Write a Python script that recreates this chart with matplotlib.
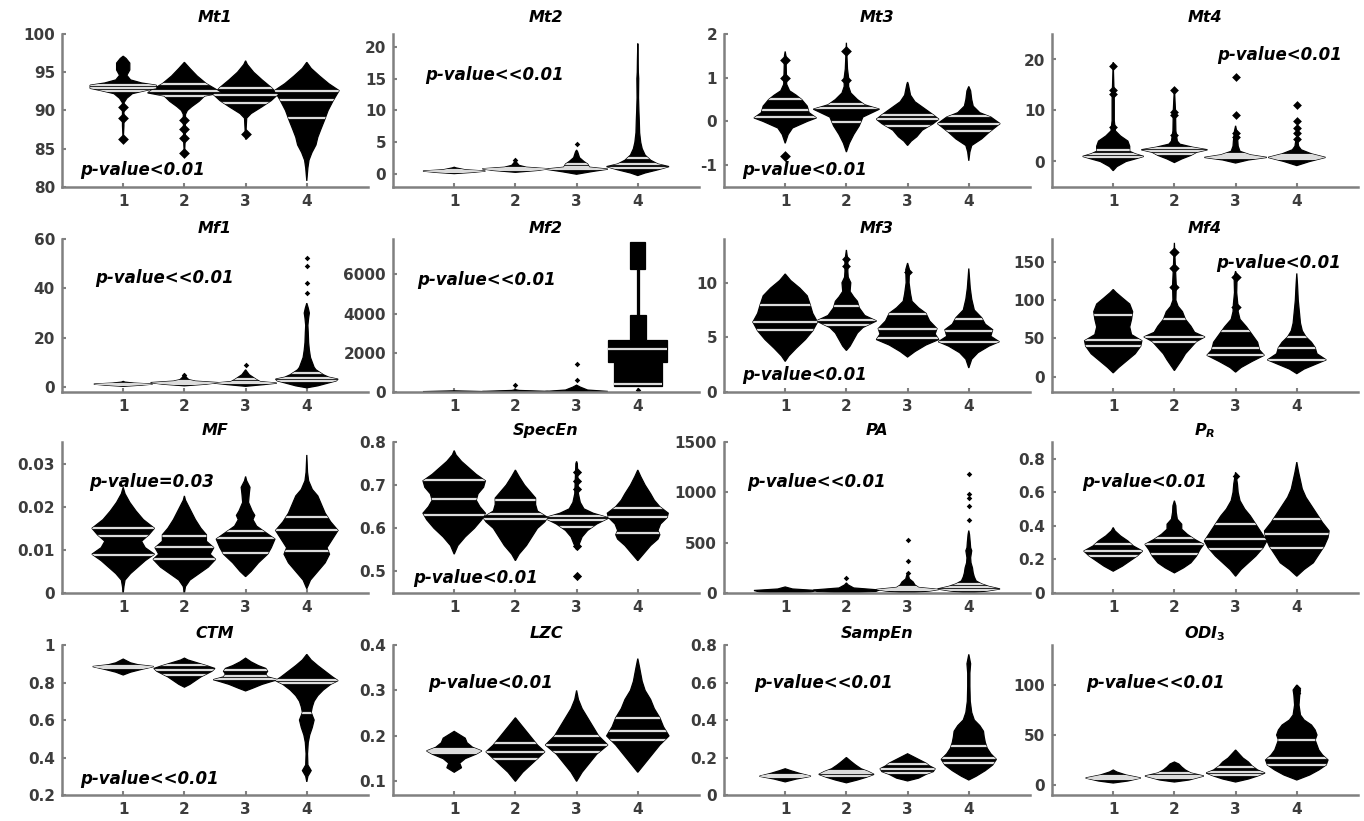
import numpy as np
import matplotlib
matplotlib.use("Agg")
import matplotlib.pyplot as plt
from matplotlib.patches import Polygon

plt.rcParams['font.family'] = ['DejaVu Sans']
plt.rcParams['font.weight'] = 'bold'
plt.rcParams['mathtext.fontset'] = 'custom'
plt.rcParams['mathtext.it'] = 'DejaVu Sans:italic:bold'
plt.rcParams['mathtext.rm'] = 'DejaVu Sans:bold'
plt.rcParams['mathtext.bf'] = 'DejaVu Sans:bold'

GROUPS = [1, 2, 3, 4]

# each shape: (y, relative half width), bottom to top
# ---- Mt1 ----
mt1_shape = [
    [(86.0, 0), (88, 0.02), (91.0, 0.02), (91.6, 0.1), (92.2, 0.25), (92.6, 0.6), (92.9, 0.9), (93.3, 0.9),
     (93.6, 0.5), (94.0, 0.2), (94.6, 0.1), (95.3, 0.18), (96.2, 0.18), (96.8, 0.08), (97.1, 0)],
    [(84, 0), (86, 0.02), (89.5, 0.03), (90.0, 0.08), (90.5, 0.2), (91.2, 0.4), (91.9, 0.55), (92.3, 1.0),
     (92.8, 0.85), (93.5, 0.6), (94.5, 0.35), (95.5, 0.15), (96.3, 0)],
    [(86.2, 0), (89.0, 0.03), (89.6, 0.15), (90.5, 0.45), (91.3, 0.7), (92.1, 0.88), (93.0, 0.7), (94.0, 0.45),
     (95.0, 0.22), (96.0, 0.05), (96.5, 0)],
    [(80.8, 0), (82.5, 0.03), (83.5, 0.06), (84.5, 0.14), (85.5, 0.25), (86.5, 0.3), (87.5, 0.38), (88.7, 0.48),
     (90, 0.58), (91.3, 0.72), (92.6, 0.88), (93.5, 0.6), (94.5, 0.35), (95.5, 0.12), (96.3, 0)],
]
mt1_lines = [[92.5, 92.9, 93.3], [91.9, 92.5, 93.4], [91.0, 92.0, 93.0], [89.0, 91.4, 92.6]]
mt1_out = [[90.5, 89.0, 86.3], [88.8, 87.6, 86.4, 84.4], [86.9], []]

# ---- Mt2 ----
mt2_shape = [
    [(0.1, 0), (0.3, 0.5), (0.5, 0.85), (0.7, 0.3), (1.0, 0.05), (1.1, 0)],
    [(0.3, 0), (0.6, 0.6), (0.85, 0.9), (1.1, 0.3), (1.4, 0.1), (1.8, 0.04), (2.4, 0)],
    [(0, 0), (0.4, 0.4), (0.8, 0.85), (1.1, 0.35), (1.6, 0.3), (2.0, 0.2), (2.6, 0.08), (3.5, 0.03), (3.8, 0)],
    [(-0.2, 0), (0.2, 0.2), (0.7, 0.55), (1.2, 0.85), (1.6, 0.55), (2.2, 0.35), (3, 0.2), (4, 0.12), (5, 0.08),
     (6.5, 0.05), (8.5, 0.04), (10, 0.03), (12, 0.02), (15, 0.025), (16, 0.015), (18, 0.01), (20.5, 0)],
]
mt2_lines = [[0.4, 0.5, 0.6], [0.7, 0.85, 1.0], [0.8, 1.1, 1.6], [1.0, 1.6, 2.5]]
mt2_out = [[], [2.2], [4.8], []]

# ---- Mt3 ----
mt3_shape = [
    [(-0.5, 0), (-0.3, 0.08), (-0.15, 0.2), (0.0, 0.6), (0.08, 0.85), (0.2, 0.65), (0.35, 0.6), (0.5, 0.45),
     (0.6, 0.3), (0.7, 0.12), (0.85, 0.04), (1.5, 0.02), (1.6, 0)],
    [(-0.7, 0), (-0.5, 0.08), (-0.3, 0.2), (-0.1, 0.35), (0.1, 0.45), (0.2, 0.7), (0.28, 0.9), (0.38, 0.5),
     (0.5, 0.3), (0.65, 0.12), (0.8, 0.06), (1.0, 0.06), (1.2, 0.03), (1.8, 0.0)],
    [(-0.55, 0), (-0.45, 0.1), (-0.35, 0.25), (-0.2, 0.4), (-0.05, 0.7), (0.05, 0.85), (0.15, 0.7), (0.3, 0.45),
     (0.45, 0.2), (0.6, 0.08), (0.85, 0.02), (0.9, 0)],
    [(-0.9, 0), (-0.7, 0.03), (-0.55, 0.08), (-0.4, 0.35), (-0.25, 0.55), (-0.05, 0.85), (0.1, 0.6), (0.2, 0.3),
     (0.35, 0.12), (0.5, 0.08), (0.7, 0.05), (0.8, 0)],
]
mt3_lines = [[0.1, 0.27, 0.52], [-0.02, 0.3, 0.4], [-0.1, 0.05, 0.15], [-0.22, -0.05, 0.12]]
mt3_out = [[-0.78, 1.0, 1.4], [0.95, 1.6], [], []]

# ---- Mt4 ----
mt4_shape = [
    [(-1.8, 0), (-1, 0.1), (0, 0.35), (0.5, 0.6), (1.0, 0.83), (1.5, 0.6), (2, 0.45), (3, 0.45), (4, 0.4),
     (5, 0.2), (6, 0.06), (8, 0.03), (12, 0.03), (19.5, 0)],
    [(-0.2, 0), (0.5, 0.2), (1.2, 0.45), (1.8, 0.6), (2.3, 0.9), (2.8, 0.5), (3.4, 0.15), (4, 0.08), (6, 0.04),
     (10, 0.03), (14.5, 0)],
    [(-0.3, 0), (0.3, 0.35), (0.8, 0.85), (1.3, 0.4), (2, 0.12), (3, 0.07), (4, 0.06), (6, 0.03), (7, 0)],
    [(-0.8, 0), (0, 0.35), (0.8, 0.78), (1.5, 0.4), (2.3, 0.12), (3, 0.05), (4, 0.03), (4.3, 0)],
]
mt4_lines = [[0.8, 1.5, 2.2], [1.5, 2.1, 2.6], [0.7, 1.0, 1.4], [0.5, 0.8, 1.2]]
mt4_out = [[6.8, 13.3, 14.0, 18.7], [5.2, 9.2, 9.8, 14.0], [4.8, 5.6, 9.2, 16.5], [4.5, 5.5, 6.5, 8, 11]]

# ---- Mf1 ----
mf1_shape = [
    [(0.3, 0), (0.8, 0.5), (1.2, 0.8), (1.6, 0.3), (2.0, 0.05), (2.3, 0)],
    [(0.5, 0), (1.2, 0.6), (1.8, 0.92), (2.4, 0.3), (3, 0.12), (4, 0.05), (5, 0.02), (5.3, 0)],
    [(0.3, 0), (1, 0.5), (1.6, 0.85), (2.2, 0.4), (3, 0.3), (4, 0.2), (5, 0.1), (6, 0.05), (7, 0.0)],
    [(-0.3, 0), (0.5, 0.3), (1.5, 0.55), (2.5, 0.8), (3.2, 0.85), (4, 0.6), (5, 0.45), (6, 0.35), (7, 0.25),
     (8, 0.2), (10, 0.15), (12, 0.1), (15, 0.07), (18, 0.05), (22, 0.04), (25, 0.03), (28, 0.05), (30, 0.07),
     (32, 0.04), (34, 0.0)],
]
mf1_lines = [[0.9, 1.1, 1.3], [1.4, 1.8, 2.3], [1.5, 2.2, 3.2], [2.5, 3.8, 5.5]]
mf1_out = [[], [4.8], [8.8], [38, 42, 49, 52.5]]

# ---- Mf2 ----
mf2_shape = [
    [(0, 0), (20, 0.85), (60, 0)],
    [(0, 0), (30, 0.9), (80, 0.1), (120, 0)],
    [(0, 0), (30, 0.85), (100, 0.3), (250, 0.1), (350, 0)],
    [(300, 0), (300, 0.65), (1540, 0.65), (1540, 0.8), (2650, 0.8), (2650, 0.22), (3930, 0.22), (3930, 0.03),
     (6250, 0.03), (6250, 0.2), (7650, 0.2), (7650, 0)],
]
mf2_lines = [[], [], [], [430, 2170]]
mf2_out = [[], [350], [600, 1450], [120]]

# ---- Mf3 ----
mf3_shape = [
    [(2.8, 0), (3.3, 0.1), (4, 0.3), (4.8, 0.55), (5.6, 0.75), (6.4, 0.88), (7.2, 0.75), (8, 0.68), (8.8, 0.6),
     (9.5, 0.4), (10.2, 0.15), (10.8, 0)],
    [(3.8, 0), (4.2, 0.1), (4.8, 0.2), (5.4, 0.3), (5.9, 0.45), (6.5, 0.82), (7.0, 0.5), (7.7, 0.35), (8.3, 0.3),
     (8.7, 0.2), (9.2, 0.1), (10, 0.12), (10.5, 0.05), (11, 0.04), (12, 0.04), (13, 0)],
    [(3.2, 0), (3.7, 0.2), (4.3, 0.5), (4.8, 0.85), (5.3, 0.75), (5.8, 0.8), (6.5, 0.6), (7.2, 0.5), (7.7, 0.3),
     (8.3, 0.12), (9, 0.08), (10, 0.04), (11.2, 0.05), (11.8, 0)],
    [(2.2, 0), (3, 0.08), (3.6, 0.25), (4.2, 0.55), (4.6, 0.83), (5.1, 0.6), (5.7, 0.65), (6.2, 0.45), (6.8, 0.35),
     (7.5, 0.15), (8.5, 0.08), (9.5, 0.04), (11.3, 0)],
]
mf3_lines = [[5.7, 6.4, 8.0], [6.1, 6.6, 7.9], [4.9, 5.8, 7.1], [4.6, 5.6, 6.7]]
mf3_out = [[], [10, 11.5, 12.2], [11], []]

# ---- Mf4 ----
mf4_shape = [
    [(5, 0), (12, 0.15), (20, 0.35), (30, 0.6), (40, 0.75), (47, 0.78), (55, 0.5), (65, 0.45), (75, 0.5),
     (85, 0.53), (95, 0.45), (103, 0.25), (110, 0.08), (114, 0)],
    [(8, 0), (15, 0.1), (22, 0.2), (30, 0.3), (38, 0.45), (46, 0.6), (52, 0.83), (58, 0.55), (66, 0.45), (75, 0.3),
     (85, 0.22), (92, 0.1), (100, 0.04), (120, 0.05), (140, 0.03), (175, 0)],
    [(6, 0), (12, 0.15), (20, 0.45), (28, 0.78), (35, 0.65), (45, 0.6), (55, 0.45), (65, 0.3), (75, 0.12),
     (85, 0.07), (95, 0.06), (110, 0.03), (130, 0.04), (138, 0)],
    [(4, 0), (10, 0.2), (16, 0.5), (22, 0.8), (30, 0.55), (38, 0.5), (45, 0.4), (52, 0.25), (60, 0.15), (70, 0.1),
     (85, 0.07), (100, 0.04), (120, 0.02), (135, 0)],
]
mf4_lines = [[40, 48.5, 80], [45, 52, 76], [28, 37, 60], [22, 37, 52]]
mf4_out = [[], [117, 142, 163], [91, 130], []]

# ---- MF ----
mfr_shape = [
    [(0.0, 0), (0.0015, 0.02), (0.003, 0.05), (0.0045, 0.2), (0.006, 0.4), (0.0075, 0.6), (0.009, 0.85),
     (0.0105, 0.6), (0.012, 0.5), (0.0135, 0.7), (0.015, 0.85), (0.017, 0.55), (0.019, 0.35), (0.021, 0.18),
     (0.023, 0.05), (0.0245, 0)],
    [(0.0, 0), (0.0015, 0.03), (0.003, 0.15), (0.0045, 0.4), (0.006, 0.65), (0.0078, 0.85), (0.009, 0.7),
     (0.0105, 0.8), (0.012, 0.6), (0.0135, 0.6), (0.015, 0.45), (0.017, 0.3), (0.019, 0.18), (0.0215, 0.03),
     (0.0225, 0)],
    [(0.0038, 0), (0.005, 0.15), (0.007, 0.35), (0.009, 0.6), (0.0105, 0.7), (0.0125, 0.8), (0.014, 0.55),
     (0.0155, 0.3), (0.017, 0.2), (0.018, 0.25), (0.019, 0.18), (0.021, 0.08), (0.023, 0.1), (0.0245, 0.12),
     (0.026, 0.03), (0.027, 0)],
    [(0.001, 0), (0.003, 0.1), (0.005, 0.3), (0.007, 0.5), (0.009, 0.62), (0.0105, 0.55), (0.0125, 0.7),
     (0.0145, 0.85), (0.0165, 0.65), (0.0185, 0.5), (0.0205, 0.4), (0.0225, 0.3), (0.024, 0.15), (0.026, 0.05),
     (0.028, 0.02), (0.032, 0)],
]
mfr_lines = [[0.0088, 0.0133, 0.0151], [0.0078, 0.0107, 0.0133], [0.0092, 0.0127, 0.0143],
             [0.0098, 0.0146, 0.0177]]
mfr_out = [[], [], [], []]

# ---- SpecEn ----
spec_shape = [
    [(0.54, 0), (0.56, 0.1), (0.58, 0.3), (0.60, 0.55), (0.62, 0.75), (0.635, 0.85), (0.65, 0.7), (0.665, 0.6),
     (0.68, 0.65), (0.695, 0.8), (0.71, 0.85), (0.725, 0.6), (0.74, 0.4), (0.755, 0.2), (0.77, 0.05), (0.78, 0)],
    [(0.525, 0), (0.54, 0.1), (0.56, 0.3), (0.58, 0.45), (0.60, 0.6), (0.615, 0.8), (0.625, 0.88), (0.64, 0.6),
     (0.655, 0.55), (0.67, 0.55), (0.685, 0.4), (0.70, 0.25), (0.72, 0.1), (0.735, 0)],
    [(0.55, 0), (0.565, 0.08), (0.58, 0.15), (0.595, 0.3), (0.61, 0.55), (0.624, 0.88), (0.635, 0.45),
     (0.645, 0.2), (0.66, 0.1), (0.68, 0.05), (0.75, 0.02), (0.755, 0)],
    [(0.525, 0), (0.54, 0.15), (0.56, 0.35), (0.575, 0.55), (0.585, 0.6), (0.595, 0.55), (0.61, 0.62),
     (0.625, 0.8), (0.635, 0.83), (0.65, 0.6), (0.665, 0.45), (0.68, 0.35), (0.70, 0.2), (0.72, 0.08), (0.735, 0)],
]
spec_lines = [[0.631, 0.667, 0.711], [0.621, 0.633, 0.665], [0.604, 0.619, 0.628], [0.588, 0.625, 0.646]]
spec_out = [[], [], [0.49, 0.56, 0.69, 0.71, 0.73], []]

# ---- PA ----
pa_shape = [
    [(0, 0), (10, 0.7), (25, 0.85), (40, 0.2), (60, 0)],
    [(0, 0), (15, 0.8), (30, 0.9), (50, 0.2), (80, 0.05), (100, 0)],
    [(0, 0), (20, 0.6), (35, 0.85), (55, 0.3), (80, 0.2), (110, 0.15), (140, 0.05), (180, 0.02), (200, 0)],
    [(0, 0), (20, 0.5), (40, 0.85), (65, 0.55), (90, 0.35), (120, 0.2), (160, 0.15), (200, 0.12), (250, 0.1),
     (300, 0.06), (350, 0.05), (420, 0.08), (450, 0.05), (500, 0.04), (580, 0.02), (620, 0)],
]
pa_lines = [[], [], [25, 40, 60], [30, 55, 90]]
pa_out = [[], [150], [200, 320, 530], [730, 860, 940, 980, 1180]]

# ---- P_R ----
pr_shape = [
    [(0.13, 0), (0.16, 0.25), (0.19, 0.45), (0.22, 0.65), (0.25, 0.8), (0.28, 0.55), (0.31, 0.4), (0.34, 0.2),
     (0.37, 0.05), (0.39, 0)],
    [(0.12, 0), (0.15, 0.25), (0.18, 0.45), (0.22, 0.6), (0.26, 0.7), (0.29, 0.8), (0.32, 0.55), (0.35, 0.35),
     (0.38, 0.2), (0.41, 0.2), (0.44, 0.08), (0.48, 0.05), (0.52, 0.04), (0.55, 0)],
    [(0.1, 0), (0.14, 0.15), (0.18, 0.35), (0.22, 0.55), (0.27, 0.75), (0.31, 0.85), (0.36, 0.7), (0.41, 0.55),
     (0.46, 0.4), (0.5, 0.25), (0.55, 0.12), (0.6, 0.07), (0.65, 0.05), (0.72, 0)],
    [(0.1, 0), (0.14, 0.2), (0.18, 0.45), (0.23, 0.6), (0.28, 0.75), (0.33, 0.85), (0.37, 0.88), (0.42, 0.7),
     (0.47, 0.55), (0.52, 0.4), (0.57, 0.25), (0.62, 0.15), (0.67, 0.1), (0.72, 0.05), (0.78, 0)],
]
pr_lines = [[0.22, 0.25, 0.29], [0.23, 0.29, 0.33], [0.26, 0.32, 0.41], [0.27, 0.35, 0.44]]
pr_out = [[], [], [0.7], []]

# ---- CTM ----
ctm_shape = [
    [(0.84, 0), (0.855, 0.2), (0.87, 0.5), (0.885, 0.83), (0.895, 0.4), (0.905, 0.2), (0.92, 0.05), (0.925, 0)],
    [(0.775, 0), (0.79, 0.15), (0.81, 0.3), (0.83, 0.45), (0.845, 0.6), (0.86, 0.75), (0.875, 0.83), (0.89, 0.6),
     (0.905, 0.35), (0.92, 0.1), (0.93, 0)],
    [(0.755, 0), (0.77, 0.2), (0.79, 0.45), (0.805, 0.7), (0.815, 0.88), (0.83, 0.6), (0.845, 0.55), (0.86, 0.6),
     (0.875, 0.55), (0.89, 0.35), (0.91, 0.15), (0.93, 0)],
    [(0.27, 0), (0.3, 0.03), (0.33, 0.12), (0.36, 0.03), (0.42, 0.02), (0.48, 0.04), (0.52, 0.08), (0.56, 0.15),
     (0.6, 0.2), (0.64, 0.12), (0.67, 0.15), (0.7, 0.2), (0.73, 0.3), (0.76, 0.45), (0.79, 0.65), (0.81, 0.85),
     (0.83, 0.7), (0.86, 0.5), (0.89, 0.3), (0.92, 0.12), (0.95, 0)],
]
ctm_lines = [[0.875, 0.885, 0.89], [0.838, 0.866, 0.895], [0.818, 0.837, 0.867], [0.64, 0.795, 0.815]]
ctm_out = [[], [], [], []]

# ---- LZC ----
lzc_shape = [
    [(0.12, 0), (0.13, 0.2), (0.14, 0.15), (0.15, 0.3), (0.16, 0.6), (0.167, 0.75), (0.175, 0.5), (0.185, 0.35),
     (0.195, 0.3), (0.205, 0.1), (0.21, 0)],
    [(0.1, 0), (0.11, 0.1), (0.12, 0.2), (0.135, 0.4), (0.15, 0.6), (0.165, 0.8), (0.18, 0.6), (0.195, 0.45),
     (0.21, 0.3), (0.22, 0.2), (0.23, 0.1), (0.24, 0)],
    [(0.1, 0), (0.12, 0.15), (0.14, 0.35), (0.16, 0.55), (0.18, 0.85), (0.2, 0.6), (0.22, 0.45), (0.24, 0.3),
     (0.26, 0.15), (0.28, 0.05), (0.3, 0)],
    [(0.12, 0), (0.14, 0.2), (0.16, 0.4), (0.18, 0.6), (0.2, 0.85), (0.22, 0.7), (0.24, 0.6), (0.26, 0.45),
     (0.28, 0.35), (0.3, 0.2), (0.32, 0.12), (0.35, 0.05), (0.37, 0)],
]
lzc_lines = [[0.163, 0.167, 0.172], [0.15, 0.165, 0.185], [0.165, 0.18, 0.2], [0.19, 0.21, 0.24]]
lzc_out = [[], [], [], []]

# ---- SampEn ----
samp_shape = [
    [(0.07, 0), (0.085, 0.3), (0.1, 0.7), (0.115, 0.4), (0.13, 0.15), (0.14, 0)],
    [(0.065, 0), (0.08, 0.3), (0.095, 0.55), (0.11, 0.75), (0.125, 0.6), (0.14, 0.4), (0.16, 0.25), (0.18, 0.12),
     (0.2, 0)],
    [(0.075, 0), (0.09, 0.3), (0.11, 0.5), (0.125, 0.7), (0.14, 0.75), (0.155, 0.6), (0.17, 0.5), (0.19, 0.3),
     (0.21, 0.1), (0.22, 0)],
    [(0.08, 0), (0.1, 0.2), (0.13, 0.45), (0.16, 0.65), (0.19, 0.75), (0.22, 0.6), (0.25, 0.5), (0.28, 0.45),
     (0.31, 0.42), (0.34, 0.4), (0.37, 0.3), (0.4, 0.15), (0.44, 0.08), (0.5, 0.04), (0.58, 0.03), (0.65, 0.03),
     (0.7, 0.05), (0.75, 0)],
]
samp_lines = [[0.095, 0.1, 0.108], [0.1, 0.115, 0.13], [0.12, 0.14, 0.165], [0.17, 0.2, 0.26]]
samp_out = [[], [], [], []]

# ---- ODI3 ----
odi_shape = [
    [(2, 0), (4, 0.4), (7, 0.75), (10, 0.35), (13, 0.1), (15, 0)],
    [(3, 0), (5, 0.4), (9, 0.8), (12, 0.45), (15, 0.3), (18, 0.2), (21, 0.12), (23, 0)],
    [(3, 0), (6, 0.35), (9, 0.6), (12, 0.8), (15, 0.6), (19, 0.45), (23, 0.35), (27, 0.2), (31, 0.1), (35, 0)],
    [(5, 0), (10, 0.35), (15, 0.6), (20, 0.8), (25, 0.85), (30, 0.7), (35, 0.6), (40, 0.55), (45, 0.5),
     (50, 0.55), (55, 0.5), (60, 0.4), (65, 0.2), (70, 0.1), (80, 0.06), (90, 0.08), (95, 0.1), (100, 0)],
]
odi_lines = [[6, 7, 9], [7, 9, 12], [10, 13, 18], [20, 27, 45]]
odi_out = [[], [], [], [92, 97]]

PANELS = [
    dict(title='Mt1', shape=mt1_shape, lines=mt1_lines, out=mt1_out, ylim=(80, 100),
         yt=[80, 85, 90, 95, 100], ytl=['80', '85', '90', '95', '100'], p='p-value<0.01', pxy=(0.06, 0.11), os=30),
    dict(title='Mt2', shape=mt2_shape, lines=mt2_lines, out=mt2_out, ylim=(-2, 22),
         yt=[0, 5, 10, 15, 20], ytl=['0', '5', '10', '15', '20'], p='p-value<<0.01', pxy=(0.105, 0.73), os=8),
    dict(title='Mt3', shape=mt3_shape, lines=mt3_lines, out=mt3_out, ylim=(-1.5, 2),
         yt=[-1, 0, 1, 2], ytl=['-1', '0', '1', '2'], p='p-value<0.01', pxy=(0.06, 0.11), os=30),
    dict(title='Mt4', shape=mt4_shape, lines=mt4_lines, out=mt4_out, ylim=(-5, 25),
         yt=[0, 10, 20], ytl=['0', '10', '20'], p='p-value<0.01', pxy=(0.54, 0.86), os=20),
    dict(title='Mf1', shape=mf1_shape, lines=mf1_lines, out=mf1_out, ylim=(-2, 60),
         yt=[0, 20, 40, 60], ytl=['0', '20', '40', '60'], p='p-value<<0.01', pxy=(0.107, 0.745), os=8),
    dict(title='Mf2', shape=mf2_shape, lines=mf2_lines, out=mf2_out, ylim=(0, 7800),
         yt=[0, 2000, 4000, 6000], ytl=['0', '2000', '4000', '6000'], p='p-value<<0.01', pxy=(0.08, 0.73), os=8),
    dict(title='Mf3', shape=mf3_shape, lines=mf3_lines, out=mf3_out, ylim=(0, 14),
         yt=[0, 5, 10], ytl=['0', '5', '10'], p='p-value<0.01', pxy=(0.06, 0.11), os=20),
    dict(title='Mf4', shape=mf4_shape, lines=mf4_lines, out=mf4_out, ylim=(-20, 180),
         yt=[0, 50, 100, 150], ytl=['0', '50', '100', '150'], p='p-value<0.01', pxy=(0.535, 0.84), os=28),
    dict(title='MF', shape=mfr_shape, lines=mfr_lines, out=mfr_out, ylim=(0, 0.035),
         yt=[0, 0.01, 0.02, 0.03], ytl=['0', '0.01', '0.02', '0.03'], p='p-value=0.03', pxy=(0.09, 0.735), os=20),
    dict(title='SpecEn', shape=spec_shape, lines=spec_lines, out=spec_out, ylim=(0.45, 0.8),
         yt=[0.5, 0.6, 0.7, 0.8], ytl=['0.5', '0.6', '0.7', '0.8'], p='p-value<0.01', pxy=(0.065, 0.10), os=22),
    dict(title='PA', shape=pa_shape, lines=pa_lines, out=pa_out, ylim=(0, 1500),
         yt=[0, 500, 1000, 1500], ytl=['0', '500', '1000', '1500'], p='p-value<<0.01', pxy=(0.075, 0.735), os=8),
    dict(title='$P_R$', shape=pr_shape, lines=pr_lines, out=pr_out, ylim=(0, 0.9),
         yt=[0, 0.2, 0.4, 0.6, 0.8], ytl=['0', '0.2', '0.4', '0.6', '0.8'], p='p-value<0.01', pxy=(0.10, 0.735),
         os=15),
    dict(title='CTM', shape=ctm_shape, lines=ctm_lines, out=ctm_out, ylim=(0.2, 1),
         yt=[0.2, 0.4, 0.6, 0.8, 1], ytl=['0.2', '0.4', '0.6', '0.8', '1'], p='p-value<<0.01', pxy=(0.06, 0.11),
         os=20),
    dict(title='LZC', shape=lzc_shape, lines=lzc_lines, out=lzc_out, ylim=(0.07, 0.4),
         yt=[0.1, 0.2, 0.3, 0.4], ytl=['0.1', '0.2', '0.3', '0.4'], p='p-value<0.01', pxy=(0.115, 0.745), os=20),
    dict(title='SampEn', shape=samp_shape, lines=samp_lines, out=samp_out, ylim=(0, 0.8),
         yt=[0, 0.2, 0.4, 0.6, 0.8], ytl=['0', '0.2', '0.4', '0.6', '0.8'], p='p-value<<0.01', pxy=(0.10, 0.745),
         os=20),
    dict(title='$ODI_3$', shape=odi_shape, lines=odi_lines, out=odi_out, ylim=(-10, 140),
         yt=[0, 50, 100], ytl=['0', '50', '100'], p='p-value<<0.01', pxy=(0.11, 0.745), os=15),
]

FW, FH = 1364, 821
LEFTS = [62, 393, 724, 1052]
TOPS = [34, 239, 442, 645]
HEIGHTS = [153, 153, 151, 150]
AX_W = 306
TITLE_PAD = [9, 4, 5, 5]
HALF = 0.6  # x-units for a relative width of 1
AX_GRAY = '#808080'

fig = plt.figure(figsize=(FW / 100, FH / 100), dpi=100)

for k, p in enumerate(PANELS):
    r, c = divmod(k, 4)
    ax = fig.add_axes([LEFTS[c] / FW, 1 - (TOPS[r] + HEIGHTS[r]) / FH, AX_W / FW, HEIGHTS[r] / FH])
    for g in range(4):
        x0 = GROUPS[g]
        ys = np.array([s[0] for s in p['shape'][g]], dtype=float)
        ws = np.array([s[1] for s in p['shape'][g]], dtype=float) * HALF
        verts = list(zip(x0 + ws, ys)) + list(zip(x0 - ws[::-1], ys[::-1]))
        poly = Polygon(verts, closed=True, fc='black', ec='black', lw=0.9, zorder=2)
        ax.add_patch(poly)
        if p['lines'][g]:
            ln = ax.hlines(p['lines'][g], x0 - HALF, x0 + HALF, colors='#dcdcdc', lw=1.6, zorder=3)
            ln.set_clip_path(poly)
        if p['out'][g]:
            ax.scatter([x0] * len(p['out'][g]), p['out'][g], marker='D', s=p['os'], c='black', lw=0, zorder=2)

    ax.set_xlim(0, 5)
    ax.set_ylim(*p['ylim'])
    ax.set_xticks(GROUPS)
    ax.set_xticklabels([str(g) for g in GROUPS])
    ax.set_yticks(p['yt'])
    ax.set_yticklabels(p['ytl'])
    for side in ['top', 'right']:
        ax.spines[side].set_visible(False)
    for side in ['left', 'bottom']:
        ax.spines[side].set_color(AX_GRAY)
        ax.spines[side].set_linewidth(1.8)
    ax.tick_params(direction='in', length=3, width=1.5, color=AX_GRAY, labelcolor='#3c3c3c', labelsize=11)
    ax.tick_params(axis='x', pad=5)
    ax.tick_params(axis='y', pad=5)
    ax.set_title(p['title'], fontsize=11.5, fontweight='bold', fontstyle='italic', pad=TITLE_PAD[r])
    ax.text(p['pxy'][0], p['pxy'][1], p['p'], transform=ax.transAxes, fontsize=12, fontweight='bold',
            fontstyle='italic', ha='left', va='center', color='black')
    ax.patch.set_alpha(0)

fig.savefig('out.png', dpi=100)
